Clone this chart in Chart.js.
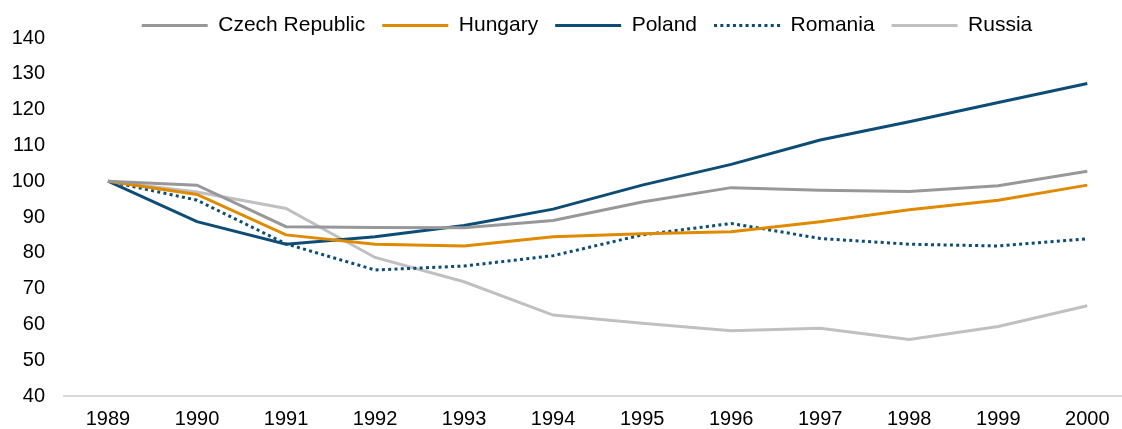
<!DOCTYPE html>
<html>
<head>
<meta charset="utf-8">
<script src="https://cdn.jsdelivr.net/npm/chart.js@4.4.0/dist/chart.umd.min.js"></script>
<style>
  html, body { margin: 0; padding: 0; background: #fff; }
  #wrap { width: 1122px; height: 429px; }
</style>
</head>
<body>
<div id="wrap"><canvas id="myChart"></canvas></div>
<script>
// tick labels / categories
const years = [1989, 1990, 1991, 1992, 1993, 1994, 1995, 1996, 1997, 1998, 1999, 2000];

// series values (index, 1989 = 100)
const czech   = [100, 98.9, 87.3, 87.1, 87.0, 89.0, 94.2, 98.2, 97.5, 97.1, 98.7, 102.8];
const hungary = [100, 96.3, 85.0, 82.4, 81.9, 84.5, 85.3, 85.9, 88.7, 92.0, 94.7, 98.9];
const poland  = [100, 88.7, 82.4, 84.5, 87.6, 92.2, 98.9, 104.7, 111.5, 116.6, 122.0, 127.3];
const romania = [100, 94.7, 82.5, 75.2, 76.3, 79.2, 85.0, 88.2, 84.0, 82.4, 81.9, 83.9];
const russia  = [100, 97.0, 92.4, 78.7, 71.9, 62.6, 60.3, 58.2, 58.9, 55.8, 59.4, 65.2];

function toPoints(values) {
    return years.map((yr, i) => ({ x: yr, y: values[i] }));
}

// legend gets a fixed height and a small nudge so it sits like the original
const legendFix = {
    id: 'legendFix',
    beforeLayout(chart) {
        const lg = chart.legend;
        if (lg && !lg._patched) {
            const fit = lg.fit;
            lg.fit = function () { fit.call(this); this.height = 38; };
            lg._patched = true;
        }
    },
    afterLayout(chart) {
        const lg = chart.legend;
        lg.top -= 2;
        lg.left -= 12;
    }
};

const line = (label, data, color, dash) => ({
    label: label,
    data: toPoints(data),
    borderColor: color,
    backgroundColor: color,
    borderWidth: 3,
    borderDash: dash || [],
    borderCapStyle: 'butt',
    pointRadius: 0,
    tension: 0,
    fill: false
});

const ctx = document.getElementById('myChart').getContext('2d');
const myChart = new Chart(ctx, {
    type: 'line',
    data: {
        datasets: [
            line('Czech Republic', czech, '#98989b'),
            line('Hungary', hungary, '#df8a00'),
            line('Poland', poland, '#0d4d75'),
            line('Romania', romania, '#0d4d75', [3, 3.3]),
            line('Russia', russia, '#c0c0c3')
        ]
    },
    plugins: [legendFix],
    options: {
        responsive: true,
        maintainAspectRatio: false,
        animation: false,
        layout: { padding: 0 },
        plugins: {
            legend: {
                position: 'top',
                fullSize: false,
                labels: {
                    usePointStyle: true,
                    pointStyle: 'line',
                    pointStyleWidth: 66,
                    padding: 17,
                    color: '#000',
                    font: { family: 'Liberation Sans, Arial, sans-serif', size: 21 },
                    generateLabels: chart => {
                        const items = Chart.defaults.plugins.legend.labels.generateLabels(chart);
                        items.forEach(item => {
                            const ds = chart.data.datasets[item.datasetIndex];
                            item.lineDash = ds.borderDash;
                            item.lineWidth = ds.borderWidth;
                            item.strokeStyle = ds.borderColor;
                            item.lineCap = 'butt';
                        });
                        return items;
                    }
                }
            },
            tooltip: { enabled: false }
        },
        scales: {
            x: {
                type: 'linear',
                min: 1988.506,
                max: 2000.39,
                afterBuildTicks: s => { s.ticks = years.map(v => ({ value: v })); },
                afterFit: s => { s.height = 33; },
                grid: { display: false, drawTicks: false },
                border: { display: true, color: '#d9d9d9', width: 2 },
                ticks: {
                    autoSkip: false,
                    maxRotation: 0,
                    padding: 11,
                    color: '#000',
                    font: { family: 'Liberation Sans, Arial, sans-serif', size: 20 },
                    callback: v => String(v)
                }
            },
            y: {
                min: 40,
                max: 140,
                afterFit: s => { s.width = 64; },
                grid: { display: false, drawTicks: false },
                border: { display: false },
                ticks: {
                    stepSize: 10,
                    padding: 19,
                    color: '#000',
                    font: { family: 'Liberation Sans, Arial, sans-serif', size: 20 }
                }
            }
        }
    }
});
</script>
</body>
</html>
